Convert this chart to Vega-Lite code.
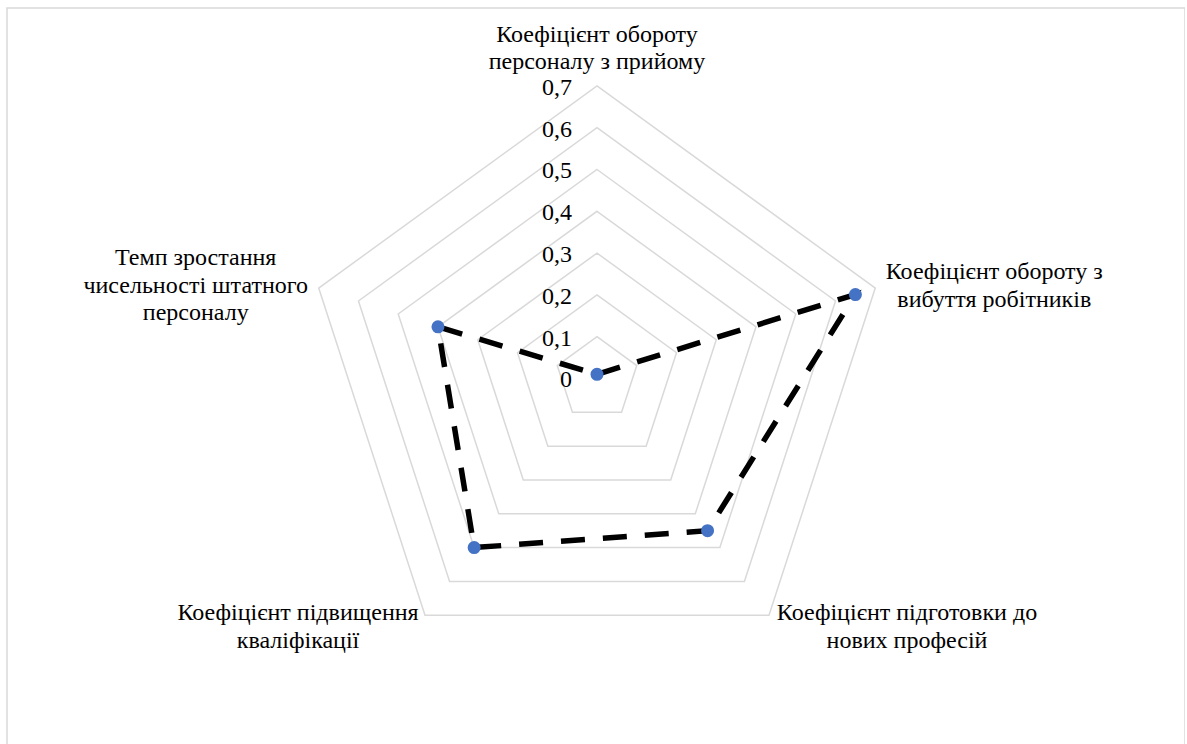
{
  "$schema": "https://vega.github.io/schema/vega-lite/v6.json",
  "autosize": {"type": "none"},
  "padding": {"left": 7, "top": 8, "right": 0, "bottom": 0},
  "width": 1178,
  "height": 760,
  "background": "white",
  "config": {
    "view": {"stroke": "#d9d9d9", "strokeWidth": 1.5},
    "text": {"font": "Liberation Serif, serif", "fontSize": 24, "color": "#000000", "lineHeight": 27.5}
  },
  "datasets": {
    "series": [
      {"k": 0, "value": 0.01, "lines": ["Коефіцієнт обороту", "персоналу з прийому"]},
      {"k": 1, "value": 0.65, "lines": ["Коефіцієнт обороту з", "вибуття робітників"]},
      {"k": 2, "value": 0.45, "lines": ["Коефіцієнт підготовки до", "нових професій"]},
      {"k": 3, "value": 0.5, "lines": ["Коефіцієнт підвищення", "кваліфікації"]},
      {"k": 4, "value": 0.4, "lines": ["Темп зростання", "чисельності штатного", "персоналу"]}
    ],
    "levels": [
      {"level": 0, "label": "0", "k": [0, 1, 2, 3, 4]},
      {"level": 0.1, "label": "0,1", "k": [0, 1, 2, 3, 4]},
      {"level": 0.2, "label": "0,2", "k": [0, 1, 2, 3, 4]},
      {"level": 0.3, "label": "0,3", "k": [0, 1, 2, 3, 4]},
      {"level": 0.4, "label": "0,4", "k": [0, 1, 2, 3, 4]},
      {"level": 0.5, "label": "0,5", "k": [0, 1, 2, 3, 4]},
      {"level": 0.6, "label": "0,6", "k": [0, 1, 2, 3, 4]},
      {"level": 0.7, "label": "0,7", "k": [0, 1, 2, 3, 4]}
    ]
  },
  "encoding": {
    "x": {"field": "x", "type": "quantitative", "axis": null, "scale": {"domain": [-1.41148, 1.4067], "nice": false, "zero": false}},
    "y": {"field": "y", "type": "quantitative", "axis": null, "scale": {"domain": [-0.93182, 0.88636], "nice": false, "zero": false}}
  },
  "layer": [
    {
      "data": {"name": "levels"},
      "transform": [
        {"filter": "datum.level > 0"},
        {"flatten": ["k"]},
        {"calculate": "PI/2 - datum.k*2*PI/5", "as": "a"},
        {"calculate": "datum.level*cos(datum.a)", "as": "x"},
        {"calculate": "datum.level*sin(datum.a)", "as": "y"}
      ],
      "mark": {"type": "line", "interpolate": "linear-closed", "stroke": "#d9d9d9", "strokeWidth": 1.5},
      "encoding": {
        "detail": {"field": "level", "type": "nominal"},
        "order": {"field": "k", "type": "quantitative"}
      }
    },
    {
      "data": {"name": "levels"},
      "transform": [
        {"calculate": "0", "as": "x"},
        {"calculate": "datum.level", "as": "y"}
      ],
      "mark": {"type": "text", "font": "Liberation Serif, serif", "fontSize": 24, "color": "#000000", "align": "right", "baseline": "middle", "dx": -25, "dy": 2},
      "encoding": {"text": {"field": "label", "type": "nominal"}}
    },
    {
      "data": {"name": "series"},
      "transform": [
        {"calculate": "PI/2 - datum.k*2*PI/5", "as": "a"},
        {"calculate": "datum.value*cos(datum.a)", "as": "x"},
        {"calculate": "datum.value*sin(datum.a)", "as": "y"}
      ],
      "mark": {"type": "line", "interpolate": "linear-closed", "stroke": "#000000", "strokeWidth": 5.5, "strokeDash": [24, 18], "strokeCap": "butt"},
      "encoding": {"order": {"field": "k", "type": "quantitative"}}
    },
    {
      "data": {"name": "series"},
      "transform": [
        {"calculate": "PI/2 - datum.k*2*PI/5", "as": "a"},
        {"calculate": "datum.value*cos(datum.a)", "as": "x"},
        {"calculate": "datum.value*sin(datum.a)", "as": "y"}
      ],
      "mark": {"type": "circle", "color": "#4472C4", "opacity": 1, "size": 170}
    },
    {
      "data": {"name": "series"},
      "transform": [
        {"filter": "datum.k == 0"},
        {"calculate": "PI/2 - datum.k*2*PI/5", "as": "a"},
        {"calculate": "0.7*cos(datum.a)", "as": "x"},
        {"calculate": "0.7*sin(datum.a)", "as": "y"}
      ],
      "mark": {"type": "text", "font": "Liberation Serif, serif", "fontSize": 24, "lineHeight": 27.5, "color": "#000000", "align": "center", "baseline": "middle", "dx": 0, "dy": -51},
      "encoding": {"text": {"field": "lines"}}
    },
    {
      "data": {"name": "series"},
      "transform": [
        {"filter": "datum.k == 1"},
        {"calculate": "PI/2 - datum.k*2*PI/5", "as": "a"},
        {"calculate": "0.7*cos(datum.a)", "as": "x"},
        {"calculate": "0.7*sin(datum.a)", "as": "y"}
      ],
      "mark": {"type": "text", "font": "Liberation Serif, serif", "fontSize": 24, "lineHeight": 27.5, "color": "#000000", "align": "center", "baseline": "middle", "dx": 119, "dy": -16},
      "encoding": {"text": {"field": "lines"}}
    },
    {
      "data": {"name": "series"},
      "transform": [
        {"filter": "datum.k == 2"},
        {"calculate": "PI/2 - datum.k*2*PI/5", "as": "a"},
        {"calculate": "0.7*cos(datum.a)", "as": "x"},
        {"calculate": "0.7*sin(datum.a)", "as": "y"}
      ],
      "mark": {"type": "text", "font": "Liberation Serif, serif", "fontSize": 24, "lineHeight": 27.5, "color": "#000000", "align": "center", "baseline": "middle", "dx": 138, "dy": -2},
      "encoding": {"text": {"field": "lines"}}
    },
    {
      "data": {"name": "series"},
      "transform": [
        {"filter": "datum.k == 3"},
        {"calculate": "PI/2 - datum.k*2*PI/5", "as": "a"},
        {"calculate": "0.7*cos(datum.a)", "as": "x"},
        {"calculate": "0.7*sin(datum.a)", "as": "y"}
      ],
      "mark": {"type": "text", "font": "Liberation Serif, serif", "fontSize": 24, "lineHeight": 27.5, "color": "#000000", "align": "center", "baseline": "middle", "dx": -127, "dy": -2},
      "encoding": {"text": {"field": "lines"}}
    },
    {
      "data": {"name": "series"},
      "transform": [
        {"filter": "datum.k == 4"},
        {"calculate": "PI/2 - datum.k*2*PI/5", "as": "a"},
        {"calculate": "0.7*cos(datum.a)", "as": "x"},
        {"calculate": "0.7*sin(datum.a)", "as": "y"}
      ],
      "mark": {"type": "text", "font": "Liberation Serif, serif", "fontSize": 24, "lineHeight": 27.5, "color": "#000000", "align": "center", "baseline": "middle", "dx": -123, "dy": -30},
      "encoding": {"text": {"field": "lines"}}
    }
  ]
}
